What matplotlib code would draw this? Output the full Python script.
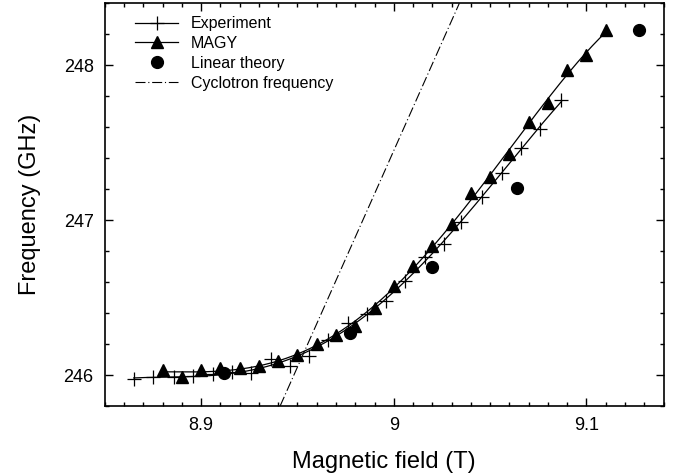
import numpy as np
import matplotlib
matplotlib.use("Agg")
import matplotlib.pyplot as plt
from matplotlib.ticker import MultipleLocator, FixedLocator, FixedFormatter

plt.rcParams['font.family'] = ['Liberation Sans', 'DejaVu Sans']

# Experiment (crosses)
exp_B = [8.865, 8.875, 8.886, 8.896, 8.906, 8.916, 8.926, 8.936, 8.946, 8.956,
         8.966, 8.976, 8.986, 8.996, 9.006, 9.016, 9.026, 9.035, 9.046, 9.056,
         9.066, 9.076, 9.087]
exp_f = [245.976, 245.987, 245.987, 245.991, 246.008, 246.020, 246.013, 246.103,
         246.055, 246.124, 246.227, 246.335, 246.395, 246.478, 246.610, 246.765,
         246.845, 246.990, 247.151, 247.305, 247.469, 247.591, 247.776]

# MAGY (triangles)
magy_B = [8.88, 8.89, 8.90, 8.91, 8.92, 8.93, 8.94, 8.95, 8.96, 8.97, 8.98, 8.99,
          9.00, 9.01, 9.02, 9.03, 9.04, 9.05, 9.06, 9.07, 9.08, 9.09, 9.10, 9.11]
magy_f = [246.030, 245.985, 246.034, 246.045, 246.045, 246.058, 246.090, 246.131,
          246.200, 246.260, 246.318, 246.432, 246.575, 246.704, 246.833, 246.975,
          247.173, 247.276, 247.430, 247.634, 247.755, 247.970, 248.064, 248.225]

# Linear theory (circles)
lin_B = [8.912, 8.977, 9.020, 9.064, 9.127]
lin_f = [246.01, 246.27, 246.70, 247.21, 248.23]

# Cyclotron frequency (straight line end points)
cyc_B = [8.941, 9.034]
cyc_f = [245.8, 248.4]

fig = plt.figure(figsize=(6.85, 4.75), dpi=100)
ax = fig.add_axes([0.153, 0.1453, 0.8157, 0.8477])

# smooth fitted curves through the data
def fit_curve(B, f, deg=4):
    B = np.asarray(B); f = np.asarray(f)
    c = np.polyfit(B - B.mean(), f, deg)
    xs = np.linspace(B.min(), B.max(), 300)
    return xs, np.polyval(c, xs - B.mean())

xe, ye = fit_curve(exp_B, exp_f)
xm, ym = fit_curve(magy_B, magy_f)

lw = 0.9
ax.plot(xe, ye, color='black', lw=lw)
ax.plot(exp_B, exp_f, linestyle='none', marker='+', ms=10, mew=0.9, color='black')
ax.plot(xm, ym, color='black', lw=lw)
ax.plot(magy_B, magy_f, linestyle='none', marker='^', ms=8.5, color='black')
ax.plot(lin_B, lin_f, linestyle='none', marker='o', ms=8.5, color='black')
ax.plot(cyc_B, cyc_f, color='black', lw=0.8, linestyle=(0, (9, 2.5, 1, 2.5)))

# legend proxies
from matplotlib.lines import Line2D
handles = [
    Line2D([], [], color='black', lw=lw, marker='+', ms=10, mew=0.9),
    Line2D([], [], color='black', lw=lw, marker='^', ms=8.5),
    Line2D([], [], color='black', lw=0, marker='o', ms=8.5),
    Line2D([], [], color='black', lw=0.8, linestyle=(0, (9, 2.5, 1, 2.5))),
]
labels = ['Experiment', 'MAGY', 'Linear theory', 'Cyclotron frequency']
ax.legend(handles, labels, loc='upper left', bbox_to_anchor=(0.054, 0.968),
          frameon=False, fontsize=11.5, borderpad=0, borderaxespad=0,
          handlelength=2.7, handletextpad=0.8, labelspacing=0.3, numpoints=1)

ax.set_xlim(8.85, 9.14)
ax.set_ylim(245.8, 248.4)

ax.xaxis.set_major_locator(FixedLocator([8.9, 9.0, 9.1]))
ax.xaxis.set_major_formatter(FixedFormatter(['8.9', '9', '9.1']))
ax.xaxis.set_minor_locator(MultipleLocator(0.01))
ax.yaxis.set_major_locator(FixedLocator([246, 247, 248]))
ax.yaxis.set_major_formatter(FixedFormatter(['246', '247', '248']))
ax.yaxis.set_minor_locator(MultipleLocator(0.2))

ax.tick_params(which='both', direction='in', top=True, right=True, width=1.0)
ax.tick_params(which='major', length=6, labelsize=13, pad=8)
ax.tick_params(which='minor', length=3)
for s in ax.spines.values():
    s.set_linewidth(1.2)

ax.set_xlabel('Magnetic field (T)', fontsize=17, labelpad=12)
ax.set_ylabel('Frequency (GHz)', fontsize=17, labelpad=16)

fig.savefig('out.png', dpi=100)
